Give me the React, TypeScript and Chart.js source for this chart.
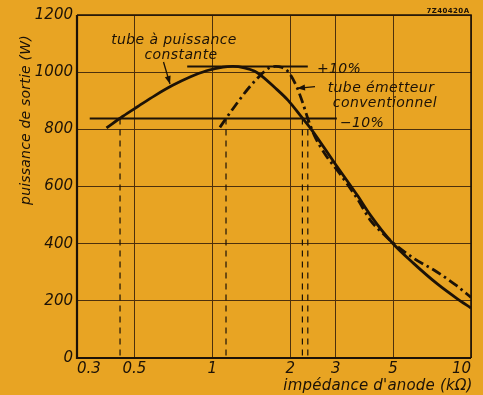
import React, { useEffect, useRef } from "react";
import { Chart, registerables } from "chart.js";

Chart.register(...registerables);

// ---- data ----
const xTickValues = [0.3, 0.5, 1, 2, 3, 5, 10];
const yTickStep = 200;

const constantX = [0.39, 0.45, 0.52, 0.6, 0.7, 0.82, 0.95, 1.1, 1.2, 1.33, 1.46, 1.55, 1.74, 1.96, 2.2, 2.41, 2.96, 3.63, 4.09, 4.95, 6.0, 7.39, 8.83, 10];
const constantY = [805, 845, 882, 918, 953, 983, 1005, 1018, 1020, 1015, 1003, 987, 947, 902, 846, 801, 684, 570, 499, 404, 331, 260, 208, 175];

const conventionalX = [1.07, 1.13, 1.22, 1.375, 1.546, 1.66, 1.76, 1.85, 1.96, 2.11, 2.24, 2.34, 2.48, 2.71, 3.14, 3.63, 4.1, 4.6, 4.95, 6.0, 7.39, 8.83, 10];
const conventionalY = [807, 838, 880, 942, 992, 1015, 1020, 1017, 1003, 953, 891, 838, 779, 717, 640, 558, 480, 433, 406, 349, 301, 252, 212];

const plus10X = [0.8, 2.34];
const plus10Level = 1020;
const minus10X = [0.336, 3.03];
const minus10Level = 838;

const dropLinesX = [0.44, 1.13, 2.23, 2.34];

const INK = "#1c1207";
const BG = "#e8a423";
const GRID = "#4d300c";

function pts(xs: number[], ys: number[]) {
  return xs.map((x, i) => ({ x, y: ys[i] }));
}

const bgPlugin = {
  id: "bgfill",
  beforeDraw(chart: any) {
    const { ctx, width, height } = chart;
    ctx.save();
    ctx.fillStyle = BG;
    ctx.fillRect(0, 0, width, height);
    ctx.restore();
  },
  beforeDatasetsDraw(chart: any) {
    const { ctx, chartArea: a } = chart;
    ctx.save();
    ctx.strokeStyle = INK;
    ctx.lineWidth = 1.6;
    ctx.beginPath();
    ctx.moveTo(a.left, a.top);
    ctx.lineTo(a.right, a.top);
    ctx.lineTo(a.right, a.bottom);
    ctx.stroke();
    ctx.lineWidth = 2.2;
    ctx.beginPath();
    ctx.moveTo(a.left, a.top);
    ctx.lineTo(a.left, a.bottom);
    ctx.lineTo(a.right, a.bottom);
    ctx.stroke();
    ctx.restore();
  },
};

function text(ctx: any, s: string, x: number, y: number, font: string, spacing: number, align: string = "center") {
  ctx.font = font;
  try { ctx.letterSpacing = spacing + "px"; } catch (e) {}
  ctx.textAlign = align;
  ctx.textBaseline = "middle";
  ctx.fillText(s, x, y);
}

function arrow(ctx: any, x1: number, y1: number, x2: number, y2: number) {
  ctx.beginPath();
  ctx.moveTo(x1, y1);
  ctx.lineTo(x2, y2);
  ctx.stroke();
  const ang = Math.atan2(y2 - y1, x2 - x1);
  const L = 8, W = 3;
  ctx.beginPath();
  ctx.moveTo(x2, y2);
  ctx.lineTo(x2 - L * Math.cos(ang) + W * Math.sin(ang), y2 - L * Math.sin(ang) - W * Math.cos(ang));
  ctx.lineTo(x2 - L * Math.cos(ang) - W * Math.sin(ang), y2 - L * Math.sin(ang) + W * Math.cos(ang));
  ctx.closePath();
  ctx.fill();
}

const labelPlugin = {
  id: "labels",
  afterDraw(chart: any) {
    const { ctx } = chart;
    ctx.save();
    ctx.fillStyle = INK;
    ctx.strokeStyle = INK;
    ctx.lineWidth = 1.3;
    const f = 'italic 14px "DejaVu Sans"';
    text(ctx, "tube à puissance", 174, 40, f, 0.4);
    text(ctx, "constante", 181, 55, f, 0.4);
    text(ctx, "+10%", 317, 69, f, 0.3, "left");
    text(ctx, "tube émetteur", 381, 88, f, 0.4);
    text(ctx, "conventionnel", 385, 103, f, 0.4);
    text(ctx, "−10%", 340, 123, f, 0.3, "left");
    text(ctx, "7Z40420A", 448, 11, 'bold 7px "DejaVu Sans"', 0.4);
    text(ctx, "impédance d'anode (kΩ)", 378, 386, 'italic 15px "DejaVu Sans"', 0.2);
    ctx.save();
    ctx.translate(26, 120);
    ctx.rotate(-Math.PI / 2);
    text(ctx, "puissance de sortie (W)", 0, 0, 'italic 14px "DejaVu Sans"', 0.2);
    ctx.restore();
    arrow(ctx, 163.5, 62, 170, 84);
    arrow(ctx, 315, 86.7, 297, 88.3);
    ctx.restore();
  },
};

export default function App() {
  const ref = useRef<HTMLCanvasElement>(null);
  useEffect(() => {
    const dropSets = dropLinesX.map((x) => ({
      data: [{ x, y: minus10Level }, { x, y: 0 }],
      borderColor: INK,
      borderWidth: 1.2,
      borderDash: [6, 5],
      pointRadius: 0,
      showLine: true,
    }));
    const chart = new Chart(ref.current as HTMLCanvasElement, {
      type: "scatter",
      data: {
        datasets: [
          {
            data: pts(constantX, constantY),
            borderColor: INK,
            borderWidth: 2.8,
            pointRadius: 0,
            showLine: true,
            cubicInterpolationMode: "monotone",
          },
          {
            data: pts(conventionalX, conventionalY),
            borderColor: INK,
            borderWidth: 2.8,
            borderDash: [10, 4, 2.5, 4],
            pointRadius: 0,
            showLine: true,
            cubicInterpolationMode: "monotone",
          },
          {
            data: plus10X.map((x) => ({ x, y: plus10Level })),
            borderColor: INK,
            borderWidth: 2,
            pointRadius: 0,
            showLine: true,
          },
          {
            data: minus10X.map((x) => ({ x, y: minus10Level })),
            borderColor: INK,
            borderWidth: 2,
            pointRadius: 0,
            showLine: true,
          },
          ...dropSets,
        ] as any,
      },
      options: {
        responsive: false,
        maintainAspectRatio: false,
        animation: false,
        layout: { padding: { top: 15, right: 12, left: 0, bottom: 0 } },
        plugins: { legend: { display: false }, tooltip: { enabled: false } },
        scales: {
          x: {
            type: "logarithmic",
            min: 0.3,
            max: 10,
            afterBuildTicks: (s: any) => {
              s.ticks = xTickValues.map((v) => ({ value: v }));
            },
            afterFit: (s: any) => {
              s.height = 37;
            },
            ticks: {
              callback: (v: any) => String(v),
              color: INK,
              font: { family: "DejaVu Sans", size: 15, style: "italic" },
              align: "inner",
              padding: 2,
              maxRotation: 0,
              autoSkip: false,
            },
            grid: { color: GRID, lineWidth: 1, drawTicks: false },
            border: { display: false },
          },
          y: {
            type: "linear",
            min: 0,
            max: 1200,
            afterFit: (s: any) => {
              s.width = 77;
            },
            ticks: {
              stepSize: yTickStep,
              callback: (v: any) => String(v),
              color: INK,
              font: { family: "DejaVu Sans", size: 15, style: "italic" },
              padding: 4,
            },
            grid: { color: GRID, lineWidth: 1, drawTicks: false },
            border: { display: false },
          },
        },
      } as any,
      plugins: [bgPlugin, labelPlugin],
    });
    return () => chart.destroy();
  }, []);
  return (
    <div style={{ position: "fixed", left: 0, top: 0, width: 483, height: 395 }}>
      <canvas ref={ref} width={483} height={395} style={{ display: "block", width: 483, height: 395 }} />
    </div>
  );
}
